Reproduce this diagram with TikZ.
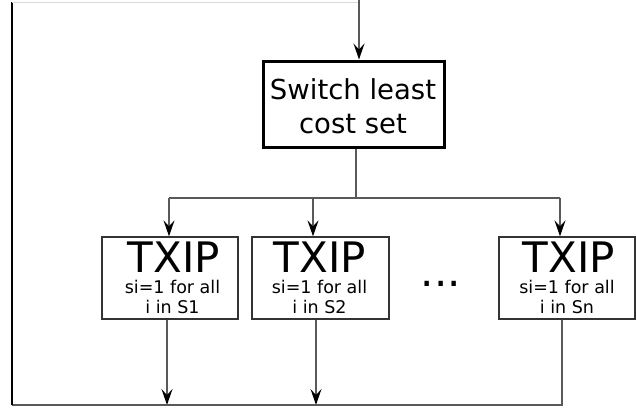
\documentclass[tikz,border=0pt]{standalone}
\usepackage{fontspec}
\setmainfont{DejaVu Sans}
\usetikzlibrary{arrows.meta}
\tikzset{
  wire/.style={draw=black!65, line width=1.5pt},
  arr/.style={wire, -{Stealth[length=16pt,width=11pt,inset=6pt,black]}},
  mainbox/.style={draw=black, line width=3pt, minimum width=181pt, minimum height=86pt, inner sep=0pt},
  ipbox/.style={draw=black!80, line width=1.3pt, minimum width=136pt, minimum height=82pt, inner sep=0pt},
  bigtxt/.style={anchor=base, inner sep=0pt, font=\fontsize{27.5}{30}\selectfont},
  titletxt/.style={anchor=base, inner sep=0pt, text depth=0pt, font=\fontsize{42}{42}\selectfont},
  smalltxt/.style={anchor=base, inner sep=0pt, text depth=0pt, font=\fontsize{17.5}{18}\selectfont},
}
\begin{document}
\begin{tikzpicture}[x=1pt, y=-1pt]
\useasboundingbox (0,0) rectangle (637,408);

% switch box
\node[mainbox] (sw) at (353.5,104) {};
\node[bigtxt] (swl1) at (353,99.7) {Switch least};
\node[bigtxt] (swl2) at (353,133) {cost set};

% TXIP boxes
\node[ipbox] (t1) at (170,278) {};
\node[ipbox, minimum width=137pt] (t2) at (320.5,278) {};
\node[ipbox] (t3) at (567,278) {};

\node[titletxt] (t1a) at (174,272.7) {TXIP};
\node[smalltxt] (t1b) at (172.5,293.3) {si=1 for all};
\node[smalltxt] (t1c) at (172.5,313.5) {i in S1};

\node[titletxt] (t2a) at (320,272.7) {TXIP};
\node[smalltxt] (t2b) at (319.5,293.3) {si=1 for all};
\node[smalltxt] (t2c) at (319.5,313.5) {i in S2};

\node[titletxt] (t3a) at (569,272.7) {TXIP};
\node[smalltxt] (t3b) at (567,293.3) {si=1 for all};
\node[smalltxt] (t3c) at (567,313.5) {i in Sn};

\node[titletxt] (dots) at (441,286) {...};

% loop coordinates
\coordinate (topin) at (359,0);
\coordinate (bar) at (356,198);
\coordinate (bl) at (11.5,405);
\coordinate (tl) at (11.5,2);
\coordinate (tr) at (358,2);

% input into switch box
\draw[arr] (topin) -- (topin |- sw.north);

% fan-out to TXIP boxes
\draw[wire] (sw.south -| bar) -- (bar);
\draw[wire] (169,198) -- (560,198);
\draw[arr] (169,198) -- (t1.north -| 169,0);
\draw[arr] (313,198) -- (t2.north -| 313,0);
\draw[arr] (560,198) -- (t3.north -| 560,0);

% collection line
\draw[arr] (t1.south -| 167,0) -- (167,405);
\draw[arr] (t2.south -| 316,0) -- (316,405);
\draw[wire, line join=miter] (t3.south -| 562,0) -- (562,405) -- (bl);

% feedback loop
\draw[draw=black, line width=2pt] (bl) -- (tl);
\draw[draw=black!15, line width=1pt] (tl) -- (tr);
\end{tikzpicture}
\end{document}
